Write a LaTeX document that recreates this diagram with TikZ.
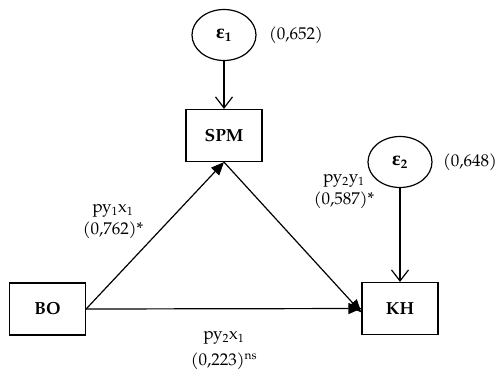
\documentclass[tikz,border=0pt]{standalone}
\usepackage{fontspec}
\setmainfont{TeX Gyre Pagella}
\newfontfamily\grkfont{Liberation Serif}
\usetikzlibrary{arrows.meta,shapes.geometric}
\begin{document}
\begin{tikzpicture}[x=1pt,y=-1pt,
  every node/.style={font=\fontsize{17}{19}\selectfont},
  varbox/.style={draw,line width=1.2pt,minimum width=76pt,minimum height=52pt,font=\fontsize{17.5}{19}\selectfont\bfseries},
  errnode/.style={draw,ellipse,line width=1.2pt,minimum width=64pt,minimum height=51pt,inner sep=0pt,font=\fontsize{20}{22}\selectfont\bfseries},
  lab/.style={align=center,inner sep=0pt,font=\fontsize{17}{22}\selectfont},
  openarr/.style={line width=1.2pt,-{Straight Barb[length=11pt,width=17pt,line width=1.2pt]}},
  fillarr/.style={line width=1.2pt,-{Triangle[length=13pt,width=11pt]}}]
\useasboundingbox (0,0) rectangle (497,373);
\node[errnode] (e1) at (224,35) {{\grkfont ε}\textsubscript{\fontsize{13}{14}\selectfont 1}};
\node[errnode] (e2) at (400,162) {{\grkfont ε}\textsubscript{\fontsize{13}{14}\selectfont 2}};
\node[varbox] (spm) at (224,135.5) {SPM};
\node[varbox] (kh) at (400,308.5) {KH};
\node[varbox] (bo) at (47.5,309) {BO};
\node[anchor=west,inner sep=0pt] (v1) at (269,35) {(0,652)};
\node[anchor=west,inner sep=0pt] (v2) at (443,162) {(0,648)};
\draw[openarr] (e1) -- (spm);
\draw[openarr] (e2) -- (kh);
\draw[fillarr] (bo.east) -- (spm.south);
\draw[fillarr] (spm.south) -- ([yshift=-4pt]kh.west);
\draw[fillarr] (bo.east) -- (kh.west);
\node[lab] (l1) at (113,222) {py\textsubscript{1}x\textsubscript{1}\\(0,762)*};
\node[lab] (l2) at (344,192) {py\textsubscript{2}y\textsubscript{1}\\(0,587)*};
\node[lab] (l3) at (224,351) {py\textsubscript{2}x\textsubscript{1}\\[4pt](0,223)\textsuperscript{ns}};
\end{tikzpicture}
\end{document}
